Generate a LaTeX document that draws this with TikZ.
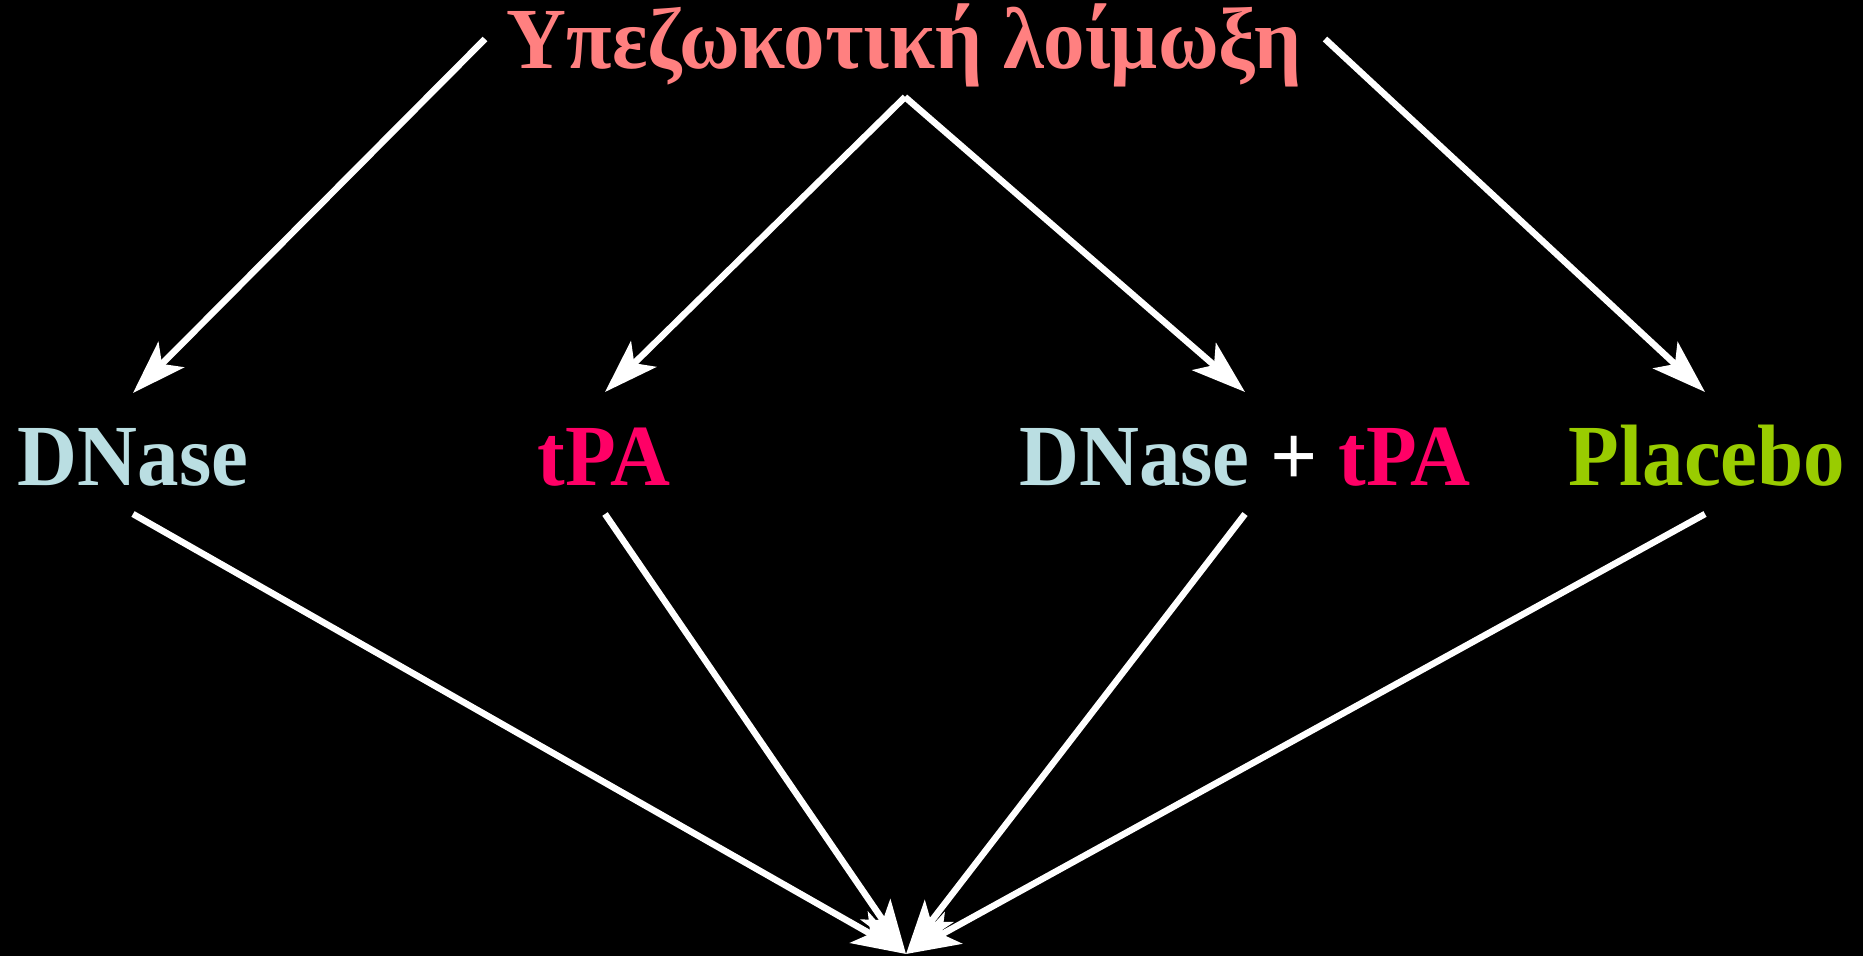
\documentclass[tikz,border=0pt]{standalone}
\usepackage{fontspec}
\setmainfont{Liberation Serif}
\usetikzlibrary{arrows.meta}
\definecolor{salmon}{RGB}{255,128,128}
\definecolor{dnaseblue}{RGB}{186,222,226}
\definecolor{tpapink}{RGB}{255,0,102}
\definecolor{placebogreen}{RGB}{153,204,0}
\newcommand{\tallify}[1]{\scalebox{1}[1.05]{#1}}
\tikzset{
  lbl/.style={anchor=base, inner sep=0pt, font=\fontsize{83}{90}\selectfont\bfseries},
  conn/.style={draw=white, line width=6.5pt, -{Stealth[length=54pt,width=36pt,inset=13pt]}}
}
\begin{document}
\begin{tikzpicture}[x=1pt,y=-1pt]
\fill[black] (0,0) rectangle (1863,956);
\useasboundingbox (0,0) rectangle (1863,956);
\node[lbl, text=salmon] (title) at (904,68) {\tallify{Υπεζωκοτική λοίμωξη}};
\node[lbl, text=dnaseblue] (dnase) at (133,485) {\tallify{DNase}};
\node[lbl, text=tpapink] (tpa) at (604,485) {\tallify{tPA}};
\node[lbl] (combo) at (1245,485) {\tallify{\textcolor{dnaseblue}{DNase} \textcolor{white}{+} \textcolor{tpapink}{tPA}}};
\node[lbl, text=placebogreen] (placebo) at (1707,485) {\tallify{Placebo}};
\coordinate (tl) at (485,39);
\coordinate (tm) at (905,97);
\coordinate (tr) at (1325,39);
\coordinate (dnaseTop) at (133,393);
\coordinate (tpaTop) at (605,392);
\coordinate (comboTop) at (1245,392);
\coordinate (placeboTop) at (1705,392);
\coordinate (dnaseBot) at (133,514);
\coordinate (tpaBot) at (605,514);
\coordinate (comboBot) at (1245,514);
\coordinate (placeboBot) at (1705,514);
\coordinate (sink) at (906,954);
\draw[conn] (tl) -- (dnaseTop);
\draw[conn] (tm) -- (tpaTop);
\draw[conn] (tm) -- (comboTop);
\draw[conn] (tr) -- (placeboTop);
\draw[conn] (dnaseBot) -- (sink);
\draw[conn] (tpaBot) -- (sink);
\draw[conn] (comboBot) -- (sink);
\draw[conn] (placeboBot) -- (sink);
\end{tikzpicture}
\end{document}
